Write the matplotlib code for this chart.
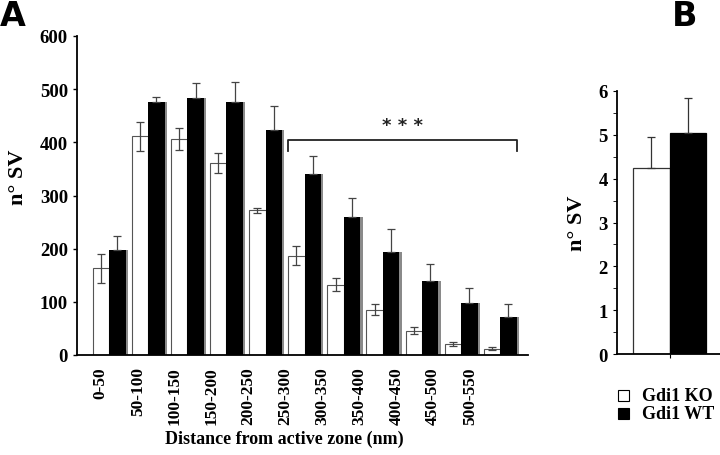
import matplotlib.pyplot as plt
import numpy as np

plt.rcParams['font.family'] = ['Liberation Serif', 'DejaVu Serif']
plt.rcParams['font.weight'] = 'bold'

# Panel A data
bins = ['0-50', '50-100', '100-150', '150-200', '200-250', '250-300',
        '300-350', '350-400', '400-450', '450-500', '500-550']
ko_mean = [163, 411, 406, 361, 272, 187, 132, 85, 46, 21, 12]
ko_err = [27, 28, 21, 19, 4, 18, 12, 10, 7, 4, 3]
wt_mean = [198, 476, 484, 476, 423, 341, 259, 194, 140, 98, 72]
wt_err = [25, 10, 27, 38, 46, 34, 36, 43, 32, 28, 23]

# Panel B data
b_mean = [4.24, 5.05]
b_err = [0.71, 0.79]
b_labels = ['Gdi1 KO', 'Gdi1 WT']

fig = plt.figure(figsize=(7.2, 4.56), dpi=100)

# ---- panel A
w = 0.42
shadow = '#8a8a8a'
axA = fig.add_axes([77/720, 1-356/456, 451/720, 319/456])
x = np.arange(len(bins))
xk = x - w/2
xw = x + w/2
axA.bar(xk + 0.05, ko_mean, w, color=shadow, zorder=1)
axA.bar(xk, ko_mean, w, color='white', edgecolor='#555555', linewidth=0.8, zorder=2)
axA.bar(xw + 0.06, wt_mean, w, color=shadow, zorder=1)
axA.bar(xw, wt_mean, w, color='black', zorder=2)
axA.errorbar(xk, ko_mean, yerr=ko_err, fmt='none', ecolor='#444444',
             elinewidth=0.9, capsize=3, capthick=0.9, zorder=3)
axA.errorbar(xw, wt_mean, yerr=[np.zeros(len(wt_err)), wt_err], fmt='none',
             ecolor='#444444', elinewidth=0.9, capsize=3, capthick=0.9, zorder=3)

axA.set_xlim(-0.82, 10.71)
axA.set_ylim(0, 600)
axA.set_yticks(range(0, 601, 100))
axA.set_xticks(-0.21 + 0.944*x)
axA.set_xticklabels(bins, rotation=90, fontsize=12.5, fontweight='bold')
axA.tick_params(axis='x', length=0, pad=8)
axA.tick_params(axis='y', direction='out', length=3, labelsize=13.5, width=1)
for t in axA.get_yticklabels():
    t.set_fontweight('bold')
axA.spines['top'].set_visible(False)
axA.spines['right'].set_visible(False)
axA.spines['left'].set_linewidth(1.3)
axA.spines['bottom'].set_linewidth(1.3)
axA.set_xlabel('Distance from active zone (nm)', fontsize=13, fontweight='bold')
axA.xaxis.set_label_coords(0.46, -0.235)
axA.set_ylabel('n° SV', fontsize=16, fontweight='bold')
axA.yaxis.set_label_coords(-0.108, 0.56)

# significance bracket
bl, br, by, bd = 5 - w, 10 + w, 404, 383
axA.plot([bl, bl, br, br], [bd, by, by, bd], color='#222222', lw=1.3, zorder=4)
axA.text((bl + br)/2, by + 12, '* * *', ha='center', va='bottom', fontsize=13,
         family='DejaVu Sans', color='#222222')

fig.text(0.0, 1.0, 'A', ha='left', va='top', fontsize=24, fontweight='bold',
         family='DejaVu Sans')

# ---- panel B
axB = fig.add_axes([617/720, 1-355/456, 103/720, 263/456])
xb = np.array([-0.5, 0.5])
axB.bar(xb, b_mean, 1.0, color=['white', 'black'],
        edgecolor=['#333333', 'black'], linewidth=0.9, zorder=2)
axB.errorbar(xb, b_mean, yerr=[[0, 0], b_err], fmt='none', ecolor='#333333',
             elinewidth=0.9, capsize=3, capthick=0.9, zorder=3)
axB.set_xlim(-1.44, 1.38)
axB.set_ylim(0, 6)
axB.set_yticks(range(0, 7))
axB.set_yticks(np.arange(0.5, 6, 1), minor=True)
axB.set_xticks([0])
axB.set_xticklabels([''])
axB.tick_params(axis='x', direction='out', length=3)
axB.tick_params(axis='y', which='both', direction='out', length=3, labelsize=13.5)
for t in axB.get_yticklabels():
    t.set_fontweight('bold')
axB.spines['top'].set_visible(False)
axB.spines['right'].set_visible(False)
axB.spines['left'].set_linewidth(1.3)
axB.spines['bottom'].set_linewidth(1.3)
axB.set_ylabel('n° SV', fontsize=16, fontweight='bold', labelpad=8)

fig.text(672/720, 1.0, 'B', ha='left', va='top', fontsize=24, fontweight='bold',
         family='DejaVu Sans')

# legend below panel B
for i, (lab, fc) in enumerate(zip(b_labels, ['white', 'black'])):
    yy = 1 - (397 + 18*i)/456
    fig.patches.append(plt.Rectangle((618/720, yy - 5/456), 11/720, 11/456,
                                     transform=fig.transFigure, facecolor=fc,
                                     edgecolor='black', linewidth=0.8))
    fig.text(642/720, yy, lab, ha='left', va='center', fontsize=13, fontweight='bold')

fig.savefig('out.png', dpi=100)
